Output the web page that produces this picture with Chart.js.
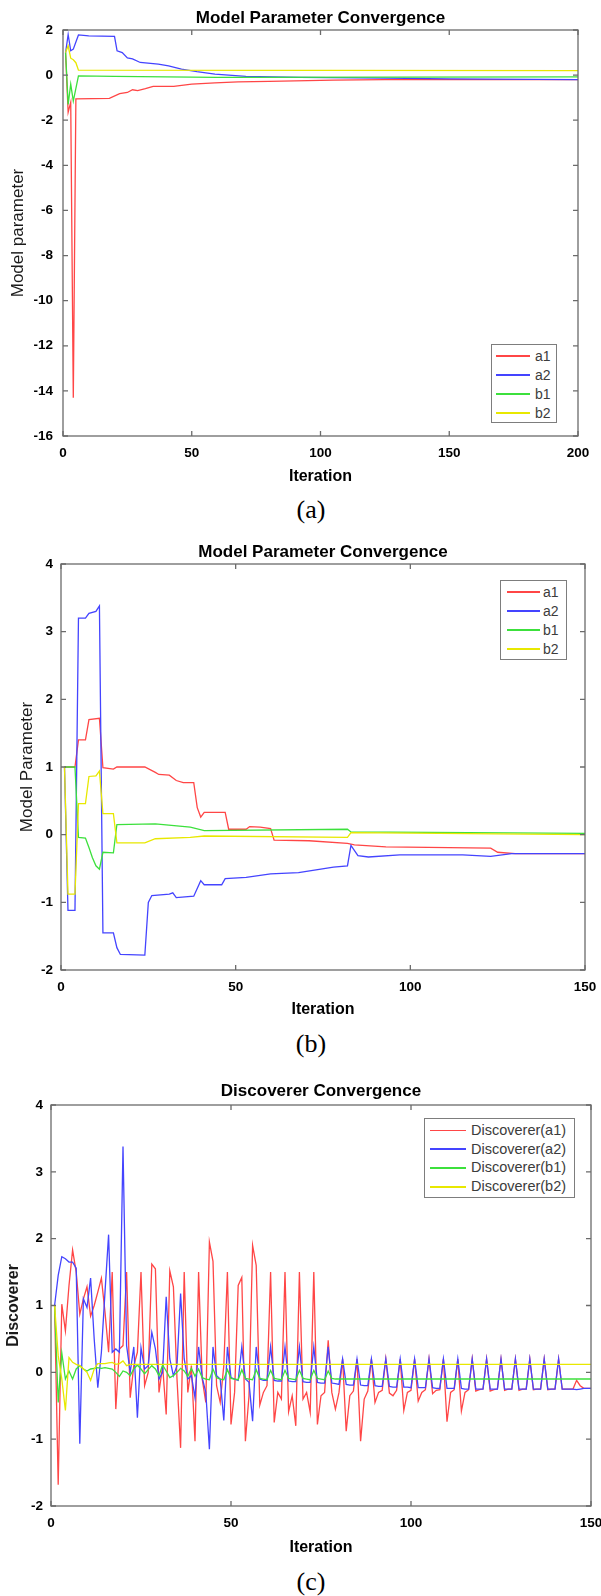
<!DOCTYPE html>
<html>
<head>
<meta charset="utf-8">
<title>Convergence</title>
<script src="https://cdn.jsdelivr.net/npm/chart.js@4.4.1/dist/chart.umd.min.js"></script>
<style>
  body { margin: 0; background: #fff; }
  #page { position: relative; width: 601px; height: 1596px; overflow: hidden; background: #fff; }
  canvas { position: absolute; left: 0; }
  .legend { position: absolute; box-sizing: border-box; background: #fff; border: 1px solid #7d7d7d; font-family: "Liberation Sans", Arial, sans-serif; color: #3c3c3c; }
  .legend .swatch { position: absolute; height: 1.5px; }
  .legend .txt { position: absolute; white-space: nowrap; }
  .caption { position: absolute; width: 100px; text-align: center; font-family: "Liberation Serif", "Times New Roman", serif; font-size: 26px; line-height: 30px; color: #000; }
</style>
</head>
<body>
<div id="page">
  <canvas id="chartA" width="601" height="491" style="top:0px"></canvas>
  <div class="caption" style="left:261px;top:495px">(a)</div>
  <canvas id="chartB" width="601" height="491" style="top:533px"></canvas>
  <div class="caption" style="left:261px;top:1029px">(b)</div>
  <canvas id="chartC" width="601" height="488" style="top:1074px"></canvas>
  <div class="caption" style="left:261px;top:1567px">(c)</div>
</div>
<script>
// ---- data ----
const namesAB = ['a1', 'a2', 'b1', 'b2'];
const namesC = ['Discoverer(a1)', 'Discoverer(a2)', 'Discoverer(b1)', 'Discoverer(b2)'];
const lineColors = ['#ff4646', '#4444ff', '#3ce03c', '#e8e800'];

// (a) breakpoints of each curve
const itA_a1 = [1, 2, 3, 4, 5, 18, 22, 25, 27, 29, 32, 35, 43, 50, 59, 68, 80, 105, 125, 200];
const valA_a1 = [1.0, -1.65, -1.2, -14.3, -1.05, -1.03, -0.82, -0.77, -0.65, -0.69, -0.6, -0.5, -0.5, -0.4, -0.34, -0.3, -0.28, -0.22, -0.2, -0.2];
const itA_a2 = [1, 2, 3, 4, 6, 10, 20, 21, 23, 25, 27, 30, 37, 41, 46, 52, 59, 71, 92, 125, 150, 200];
const valA_a2 = [1.0, 1.8, 1.08, 1.15, 1.78, 1.74, 1.72, 1.08, 1.0, 0.76, 0.72, 0.56, 0.49, 0.41, 0.27, 0.15, 0.04, -0.06, -0.1, -0.13, -0.17, -0.2];
const itA_b1 = [1, 2, 3, 4, 6, 20, 60, 200];
const valA_b1 = [1.0, -1.3, -0.4, -1.15, -0.03, -0.06, -0.1, -0.08];
const itA_b2 = [1, 2, 3, 4, 5, 6, 200];
const valA_b2 = [1.0, 1.3, 0.75, 0.68, 0.55, 0.22, 0.2];

// (b) breakpoints
const itB_a1 = [1, 4, 5, 7, 8, 11, 12, 15, 16, 24, 27, 28, 31, 33, 35, 38, 39, 40, 41, 47, 48, 53, 54, 57, 60, 61, 71, 82, 84, 93, 123, 125, 130, 150];
const valB_a1 = [1.0, 1.0, 1.4, 1.4, 1.7, 1.72, 0.99, 0.97, 1.0, 1.0, 0.92, 0.89, 0.88, 0.8, 0.77, 0.77, 0.4, 0.26, 0.33, 0.33, 0.08, 0.08, 0.12, 0.11, 0.09, -0.08, -0.09, -0.13, -0.15, -0.18, -0.2, -0.26, -0.28, -0.28];
const itB_a2 = [1, 2, 4, 5, 7, 8, 10, 11, 12, 15, 16, 17, 24, 25, 26, 31, 32, 33, 38, 40, 41, 46, 47, 53, 60, 68, 73, 78, 82, 83, 85, 88, 97, 115, 123, 129, 150];
const valB_a2 = [1.0, -1.12, -1.12, 3.2, 3.2, 3.27, 3.3, 3.38, -1.45, -1.45, -1.67, -1.77, -1.78, -1.0, -0.9, -0.88, -0.86, -0.93, -0.91, -0.68, -0.74, -0.74, -0.65, -0.63, -0.58, -0.56, -0.52, -0.48, -0.46, -0.16, -0.31, -0.33, -0.3, -0.3, -0.32, -0.28, -0.28];
const itB_b1 = [1, 4, 5, 7, 8, 9, 10, 11, 12, 15, 16, 27, 37, 41, 82, 83, 150];
const valB_b1 = [1.0, 1.0, -0.04, -0.05, -0.19, -0.34, -0.46, -0.51, -0.26, -0.27, 0.15, 0.16, 0.11, 0.06, 0.08, 0.04, 0.02];
const itB_b2 = [1, 2, 4, 5, 7, 8, 10, 11, 12, 15, 16, 24, 27, 37, 41, 82, 83, 150];
const valB_b2 = [1.0, -0.88, -0.88, 0.46, 0.46, 0.86, 0.87, 0.94, 0.31, 0.31, -0.12, -0.12, -0.06, -0.04, -0.02, -0.04, 0.03, 0.0];

// (c) one value per iteration for a1 and a2
const itC = Array.from({ length: 150 }, (x, i) => i + 1);
const valC_a1 = [
  1.0, -1.68, 1.02, 0.62, 1.3, 1.83, 1.5, 0.87, 1.1, 1.28,
  0.84, 1.0, 1.2, 1.41, 0.9, 0.3, 1.5, -0.55, 0.35, 0.4,
  1.5, -0.38, 0.1, 0.3, 1.5, -0.2, 0.0, 1.62, 1.55, -0.3,
  0.1, -0.63, 1.52, 1.28, -0.1, -1.13, 1.5, -0.3, 0.1, -1.03,
  1.5, -0.1, -0.45, 1.95, 1.66, -0.2, -0.45, 0.1, 1.5, -0.78,
  -0.3, 1.3, 1.42, -1.03, -0.35, 1.9, 1.6, -0.49, -0.3, -0.2,
  1.5, -0.75, -0.3, -0.4, 1.5, -0.59, -0.35, -0.8, 1.5, -0.4,
  -0.3, -0.6, 1.5, -0.78, -0.35, -0.3, 0.48, -0.3, -0.55, -0.3,
  0.2, -0.88, -0.35, -0.28, 0.2, -1.03, -0.4, -0.28, 0.2, -0.45,
  -0.3, -0.27, 0.2, -0.31, -0.35, -0.27, 0.2, -0.57, -0.3, -0.27,
  0.2, -0.43, -0.3, -0.26, 0.2, -0.32, -0.27, -0.26, 0.2, -0.74,
  -0.3, -0.26, 0.2, -0.58, -0.3, -0.26, 0.2, -0.28, -0.26, -0.25,
  0.2, -0.28, -0.26, -0.25, 0.2, -0.27, -0.25, -0.25, 0.2, -0.27,
  -0.25, -0.25, 0.2, -0.26, -0.25, -0.25, 0.2, -0.26, -0.25, -0.25,
  0.2, -0.25, -0.25, -0.25, -0.25, -0.12, -0.2, -0.24, -0.24, -0.24
];
const valC_a2 = [
  1.0, 1.45, 1.73, 1.7, 1.65, 1.65, 1.56, -1.07, 1.1, 0.97,
  1.41, 0.5, -0.23, 0.3, 1.2, 2.06, 0.3, 0.35, 0.3, 3.38,
  0.4, 0.0, 0.38, -0.68, 0.37, 0.05, 0.1, 0.6, 0.35, -0.1,
  0.0, 1.13, 0.2, -0.05, 0.1, 1.18, 0.2, -0.1, -0.05, -0.38,
  0.38, -0.08, -0.3, -1.15, 0.38, -0.05, -0.1, -0.72, 0.38, -0.08,
  -0.1, -0.12, 0.38, -0.1, -0.15, -0.73, 0.38, -0.1, -0.12, -0.12,
  0.38, -0.12, -0.13, -0.13, 0.38, -0.13, -0.14, -0.14, 0.38, -0.14,
  -0.15, -0.15, 0.38, -0.15, -0.16, -0.16, 0.38, -0.16, -0.17, -0.18,
  0.2, -0.18, -0.19, -0.19, 0.2, -0.19, -0.2, -0.2, 0.2, -0.2,
  -0.21, -0.21, 0.2, -0.21, -0.22, -0.22, 0.2, -0.22, -0.22, -0.23,
  0.2, -0.23, -0.23, -0.23, 0.2, -0.23, -0.24, -0.24, 0.2, -0.24,
  -0.24, -0.24, 0.2, -0.24, -0.25, -0.25, 0.2, -0.25, -0.25, -0.25,
  0.2, -0.25, -0.25, -0.25, 0.2, -0.25, -0.25, -0.25, 0.2, -0.25,
  -0.25, -0.25, 0.2, -0.25, -0.25, -0.25, 0.2, -0.25, -0.25, -0.25,
  0.2, -0.25, -0.25, -0.25, -0.25, -0.26, -0.25, -0.24, -0.24, -0.24
];
// b1: iterations 1..80, then flat to 150
const itC_b1 = itC.slice(0, 80).concat([150]);
const valC_b1 = [
  1.0, -0.45, 0.29, -0.1, 0.02, -0.1, 0.05, 0.1, 0.05, 0.02,
  0.05, 0.06, 0.07, 0.06, 0.07, 0.06, 0.05, 0.0, -0.06, 0.02,
  0.0, -0.05, 0.05, 0.11, 0.05, -0.02, 0.04, 0.1, 0.05, -0.05,
  0.11, 0.02, -0.08, -0.05, 0.0, 0.06, 0.02, -0.06, 0.06, -0.06,
  0.05, -0.08, -0.1, -0.11, 0.05, -0.08, -0.1, -0.11, 0.04, -0.09,
  -0.1, -0.11, 0.04, -0.09, -0.1, -0.11, 0.04, -0.09, -0.1, -0.11,
  0.03, -0.09, -0.1, -0.11, 0.03, -0.09, -0.1, -0.11, 0.03, -0.09,
  -0.1, -0.11, 0.03, -0.09, -0.1, -0.11, 0.02, -0.09, -0.1, -0.1,
  -0.1
];
// b2: iterations 1..24, then flat to 150
const itC_b2 = itC.slice(0, 24).concat([150]);
const valC_b2 = [
  1.0, 0.25, -0.1, -0.57, 0.22, 0.15, 0.12, 0.1, 0.05, 0.0,
  -0.12, 0.05, 0.13, 0.13, 0.13, 0.14, 0.15, 0.12, 0.13, 0.17,
  0.1, 0.12, 0.12, 0.12,
  0.12
];

// ---- drawing ----
const FONT = '"Liberation Sans", Arial, sans-serif';

function pts(xs, ys) {
  return xs.map((x, i) => ({ x: x, y: ys[i] }));
}

// matlab style box with inward ticks on all four sides
const boxPlugin = {
  id: 'matlabBox',
  afterDatasetsDraw(chart) {
    const { ctx, chartArea: a, scales: { x, y } } = chart;
    ctx.save();
    ctx.strokeStyle = '#6b6b6b';
    ctx.lineWidth = 1.3;
    ctx.strokeRect(a.left, a.top, a.right - a.left, a.bottom - a.top);
    ctx.beginPath();
    x.ticks.forEach(t => {
      const px = x.getPixelForValue(t.value);
      ctx.moveTo(px, a.bottom); ctx.lineTo(px, a.bottom - 5);
      ctx.moveTo(px, a.top); ctx.lineTo(px, a.top + 5);
    });
    y.ticks.forEach(t => {
      const py = y.getPixelForValue(t.value);
      ctx.moveTo(a.left, py); ctx.lineTo(a.left + 5, py);
      ctx.moveTo(a.right, py); ctx.lineTo(a.right - 5, py);
    });
    ctx.stroke();
    ctx.restore();
  }
};

function makePanel(id, lay, title, yLabel, yMin, yMax, yStep, xMax, series) {
  const ctx = document.getElementById(id);
  return new Chart(ctx, {
    type: 'line',
    data: {
      datasets: series.map((s, i) => ({
        label: s.name,
        data: s.data,
        borderColor: s.color,
        backgroundColor: s.color,
        borderWidth: 1.3,
        pointRadius: 0,
        tension: 0,
        fill: false,
        order: series.length - i
      }))
    },
    options: {
      responsive: false,
      animation: false,
      events: [],
      layout: { padding: { left: 0, right: 601 - lay.right, top: 0, bottom: 0 } },
      plugins: {
        legend: { display: false },
        tooltip: { enabled: false },
        title: {
          display: true,
          text: title,
          fullSize: false,
          color: '#000',
          font: { family: FONT, size: 17, weight: 'bold' },
          padding: { top: lay.titleY - 10.2, bottom: lay.top - lay.titleY - 10.2 }
        }
      },
      scales: {
        x: {
          type: 'linear',
          min: 0,
          max: xMax,
          grid: { display: false, drawTicks: false },
          border: { display: false },
          ticks: { stepSize: 50, padding: lay.xTickPad, color: '#000', font: { family: FONT, size: 13.5, weight: 'bold' } },
          title: {
            display: true,
            text: 'Iteration',
            color: '#000',
            font: { family: FONT, size: 16, weight: 'bold' },
            padding: { top: 0, bottom: 4.4 }
          },
          afterFit: (axis) => {
            axis.height = lay.H - lay.bottom;
            axis.paddingLeft = 0;
            axis.paddingRight = 0;
          }
        },
        y: {
          min: yMin,
          max: yMax,
          grid: { display: false, drawTicks: false },
          border: { display: false },
          ticks: { stepSize: yStep, padding: lay.yTickPad, color: '#000', font: { family: FONT, size: 13.5, weight: 'bold' } },
          title: {
            display: true,
            text: yLabel,
            color: '#1a1a1a',
            font: { family: FONT, size: lay.yTitleSize, weight: lay.yTitleWeight },
            padding: { top: lay.yTitleX - lay.yTitleSize * 0.6, bottom: 0 }
          },
          afterFit: (axis) => {
            axis.width = lay.left;
            axis.paddingTop = 0;
            axis.paddingBottom = 0;
          }
        }
      }
    },
    plugins: [boxPlugin]
  });
}

function addLegend(names, colors, box) {
  const div = document.createElement('div');
  div.className = 'legend';
  div.style.left = box.left + 'px';
  div.style.top = box.top + 'px';
  div.style.width = box.width + 'px';
  div.style.height = box.height + 'px';
  names.forEach((name, i) => {
    const cy = box.padTop + box.rowH * (i + 0.5);
    const sw = document.createElement('div');
    sw.className = 'swatch';
    sw.style.left = box.lineLeft + 'px';
    sw.style.width = box.lineW + 'px';
    sw.style.top = (cy - 0.75) + 'px';
    sw.style.background = colors[i];
    div.appendChild(sw);
    const tx = document.createElement('div');
    tx.className = 'txt';
    tx.style.left = box.textLeft + 'px';
    tx.style.top = (cy - box.fontSize * 0.6) + 'px';
    tx.style.fontSize = box.fontSize + 'px';
    tx.style.lineHeight = (box.fontSize * 1.2) + 'px';
    tx.textContent = name;
    div.appendChild(tx);
  });
  document.getElementById('page').appendChild(div);
}

function seriesOf(names, list) {
  return list.map((d, i) => ({ name: names[i], color: lineColors[i], data: d }));
}

const layA = { H: 491, left: 63, right: 578, top: 30, bottom: 436, titleY: 18, xTickPad: 9, yTickPad: 10, yTitleX: 18, yTitleSize: 17, yTitleWeight: 'normal' };
const layB = { H: 491, left: 61, right: 585, top: 31, bottom: 437, titleY: 19, xTickPad: 9.5, yTickPad: 8, yTitleX: 27, yTitleSize: 17, yTitleWeight: 'normal' };
const layC = { H: 488, left: 51, right: 591, top: 31, bottom: 432, titleY: 17, xTickPad: 9.5, yTickPad: 8, yTitleX: 14, yTitleSize: 16, yTitleWeight: 'bold' };

makePanel('chartA', layA, 'Model Parameter Convergence', 'Model parameter', -16, 2, 2, 200,
  seriesOf(namesAB, [pts(itA_a1, valA_a1), pts(itA_a2, valA_a2), pts(itA_b1, valA_b1), pts(itA_b2, valA_b2)]));
makePanel('chartB', layB, 'Model Parameter Convergence', 'Model Parameter', -2, 4, 1, 150,
  seriesOf(namesAB, [pts(itB_a1, valB_a1), pts(itB_a2, valB_a2), pts(itB_b1, valB_b1), pts(itB_b2, valB_b2)]));
makePanel('chartC', layC, 'Discoverer Convergence', 'Discoverer', -2, 4, 1, 150,
  seriesOf(namesC, [pts(itC, valC_a1), pts(itC, valC_a2), pts(itC_b1, valC_b1), pts(itC_b2, valC_b2)]));

addLegend(namesAB, lineColors, { left: 491, top: 344, width: 66, height: 79, padTop: 1.5, rowH: 19, lineLeft: 4, lineW: 34, textLeft: 43, fontSize: 14 });
addLegend(namesAB, lineColors, { left: 500, top: 580, width: 67, height: 80, padTop: 1.5, rowH: 19, lineLeft: 6, lineW: 33, textLeft: 42, fontSize: 14 });
addLegend(namesC, lineColors, { left: 424, top: 1118, width: 151, height: 80, padTop: 2, rowH: 18.8, lineLeft: 5, lineW: 36, textLeft: 46, fontSize: 14.5 });
</script>
</body>
</html>
